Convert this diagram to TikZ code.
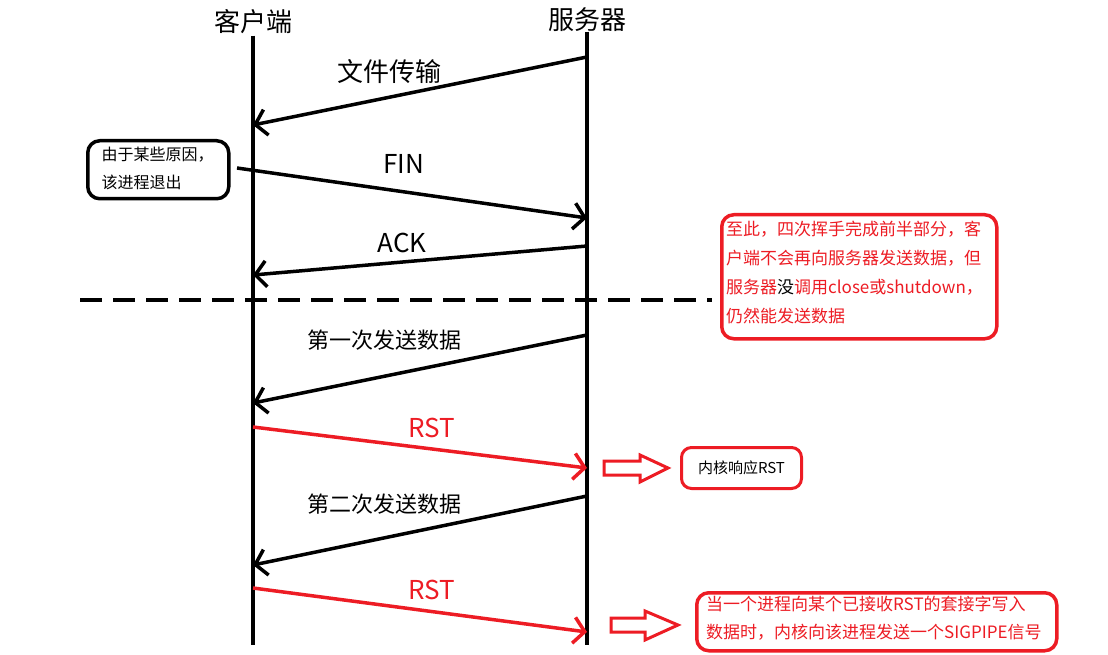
\documentclass[tikz,border=0pt]{standalone}
\usepackage{fontspec}
\newfontfamily\cjk{Noto Sans CJK SC}
\usetikzlibrary{arrows.meta}
\definecolor{alarmred}{RGB}{237,28,36}

\tikzset{
  life/.style={line width=4pt},
  msg/.style={line width=3.5pt,
    -{Straight Barb[length=11pt,width=26pt,line width=3.5pt]}},
  rstmsg/.style={msg,draw=alarmred},
  big/.style={font=\cjk\fontsize{26}{30}\selectfont},
  mid/.style={font=\cjk\fontsize{22}{26}\selectfont},
  note/.style={draw,rounded corners=12pt,line width=3.5pt,align=left,
    anchor=north west,inner sep=0pt},
  hollow/.style={draw=alarmred,line width=3pt,fill=white,line join=miter}
}

\begin{document}
\begin{tikzpicture}[x=1pt,y=-1pt]
  \useasboundingbox[fill=white] (0,0) rectangle (1108,655);

  % lifelines
  \node[big] (cli) at (253,22) {客户端};
  \node[big] (srv) at (587,20) {服务器};
  \coordinate (cliend) at (253,645);
  \coordinate (srvend) at (587,645);
  \draw[life] (cli.south) ++(0,-2) coordinate (clitop) -- (cliend);
  \draw[life] (srv.south) ++(0,-4) coordinate (srvtop) -- (srvend);

  % points on the lines
  \coordinate (s1) at (587,57);   \coordinate (c1) at (253,125);
  \coordinate (c2) at (237,168);  \coordinate (s2) at (587,218);
  \coordinate (s3) at (587,246);  \coordinate (c3) at (253,275);
  \coordinate (s4) at (587,335);  \coordinate (c4) at (253,403);
  \coordinate (c5) at (253,427);  \coordinate (s5) at (587,468);
  \coordinate (s6) at (587,496);  \coordinate (c6) at (253,565);
  \coordinate (c7) at (253,588);  \coordinate (s7) at (587,632);

  \draw[msg] (s1) -- (c1);
  \node[big] (file) at (389,72) {文件传输};

  \node[note,minimum width=141pt,minimum height=58pt] (quit) at (86,139) {};
  \node[font=\cjk\fontsize{16}{28}\selectfont,align=left,anchor=west]
    (quittxt) at (98,168) {由于某些原因，\\该进程退出};
  \draw[msg] (c2) -- (s2);
  \node[big] (fin) at (404,164) {FIN};

  \draw[msg] (s3) -- (c3);
  \node[big] (ack) at (402,243) {ACK};

  \coordinate (cutl) at (80,300);
  \coordinate (cutr) at (712,300);
  \draw[line width=4pt,dash pattern=on 22pt off 11pt] (cutl) -- (cutr);

  \node[note,draw=alarmred,minimum width=275pt,minimum height=124pt]
    (half) at (720,213) {};
  \node[font=\cjk\fontsize{17}{29}\selectfont,text=alarmred,align=left,
    anchor=north west,inner sep=0pt] (halftxt) at (726,221)
    {至此，四次挥手完成前半部分，客\\户端不会再向服务器发送数据，但\\服务器\textcolor{black}{没}调用close或shutdown，\\仍然能发送数据};

  % first send
  \node[mid] (send1) at (384,340) {第一次发送数据};
  \draw[msg] (s4) -- (c4);
  \draw[rstmsg] (c5) -- (s5);
  \node[big,text=alarmred] (rst1) at (432,428) {RST};

  \draw[hollow] (604,461) -- (640,461) -- (640,455) -- (668,468)
    -- (640,482) -- (640,475) -- (604,475) -- cycle;
  \node[note,draw=alarmred,minimum width=120pt,minimum height=41pt,
    rounded corners=10pt,line width=3pt] (kern) at (680,446) {};
  \node[font=\cjk\fontsize{15}{18}\selectfont] (kerntxt) at (kern.center) {内核响应RST};

  % second send
  \node[mid] (send2) at (384,504) {第二次发送数据};
  \draw[msg] (s6) -- (c6);
  \draw[rstmsg] (c7) -- (s7);
  \node[big,text=alarmred] (rst2) at (432,590) {RST};

  \draw[hollow] (611,618) -- (645,618) -- (645,611) -- (678,625)
    -- (645,640) -- (645,632) -- (611,632) -- cycle;
  \node[note,draw=alarmred,minimum width=360pt,minimum height=58pt]
    (pipe) at (695,591) {};
  \node[font=\cjk\fontsize{17}{28}\selectfont,text=alarmred,align=left,
    anchor=north west,inner sep=0pt] (pipetxt) at (706,596)
    {当一个进程向某个已接收RST的套接字写入\\数据时，内核向该进程发送一个SIGPIPE信号};
\end{tikzpicture}
\end{document}
